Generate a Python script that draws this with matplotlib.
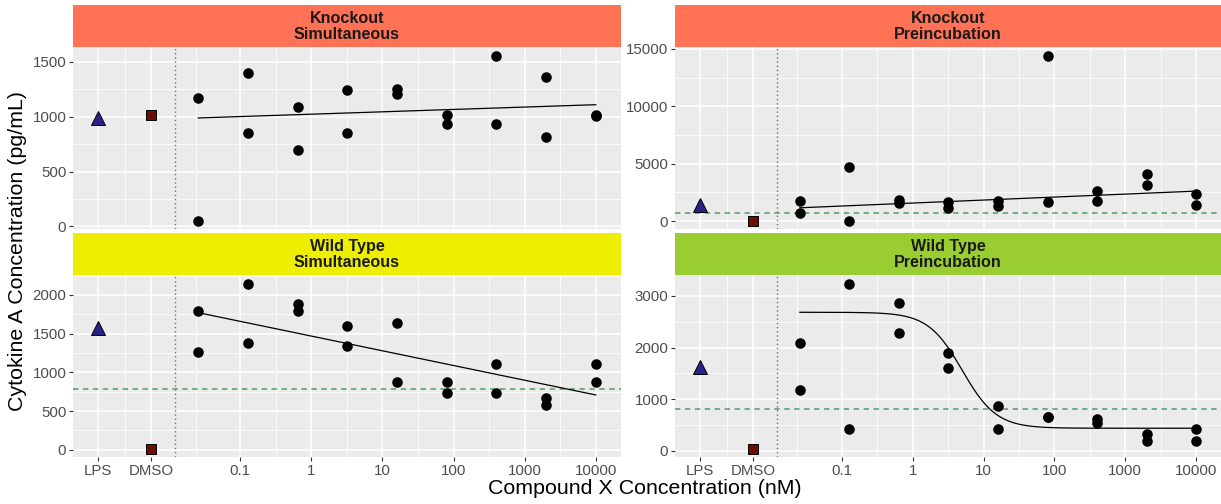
import numpy as np
import matplotlib
matplotlib.use("Agg")
import matplotlib.pyplot as plt
from matplotlib.ticker import FixedLocator, MultipleLocator, NullFormatter

plt.rcParams['font.family'] = ['Liberation Sans', 'DejaVu Sans']

# ---------------- data ----------------
conc = [0.0256, 0.128, 0.64, 3.2, 16, 80, 400, 2000, 10000]
control_labels = ["LPS", "DMSO"]
control_pos = [0.001, 10 ** -2.25]
separator_pos = 10 ** -1.92
conc_ticks = [0.1, 1, 10, 100, 1000, 10000]
conc_tick_labels = ["0.1", "1", "10", "100", "1000", "10000"]

ko_sim_rep1 = [1171, 1403, 1092, 1248, 1251, 1013, 1558, 1363, 1013]
ko_sim_rep2 = [49, 855, 694, 855, 1208, 934, 934, 815, 1008]
ko_sim_lps = 985
ko_sim_dmso = 1013
ko_sim_fit = [989, 1110]

ko_pre_rep1 = [1744, 4680, 1831, 1628, 1773, 14419, 2645, 4128, 2355]
ko_pre_rep2 = [669, 20, 1540, 1105, 1279, 1686, 1715, 3110, 1366]
ko_pre_lps = 1380
ko_pre_dmso = 10
ko_pre_fit = [1163, 2616]
ko_pre_hline = 669

wt_sim_rep1 = [1797, 2147, 1879, 1603, 1642, 877, 1106, 665, 1106]
wt_sim_rep2 = [1257, 1374, 1797, 1335, 877, 730, 730, 579, 877]
wt_sim_lps = 1570
wt_sim_dmso = 9
wt_sim_fit = [1771, 708]
wt_sim_hline = 786

wt_pre_rep1 = [2088, 3238, 2857, 1894, 873, 653, 614, 330, 433]
wt_pre_rep2 = [1183, 433, 2282, 1597, 433, 650, 537, 200, 200]
wt_pre_lps = 1622
wt_pre_dmso = 38
# four-parameter log-logistic fit: top, bottom, EC50 (nM), hill slope
wt_pre_fit_params = [2683, 440, 5.0, 1.8]
wt_pre_hline = 814

strip_titles = ["Knockout\nSimultaneous", "Knockout\nPreincubation",
                "Wild Type\nSimultaneous", "Wild Type\nPreincubation"]
strip_colors = ["#FF7256", "#FF7256", "#EEEE00", "#9ACD32"]

# ---------------- layout ----------------
W, H = 1221, 504
fig = plt.figure(figsize=(W / 100, H / 100), dpi=100)

def box(x0, y0, x1, y1):
    return [x0 / W, 1 - y1 / H, (x1 - x0) / W, (y1 - y0) / H]

cols = [(73.3, 620.6), (675.2, 1221.0)]
rows = [(5.3, 47.3, 229.3), (233.3, 275.3, 457.3)]

def loglogistic(x, top, bottom, ec50, hill):
    return bottom + (top - bottom) / (1 + (x / ec50) ** hill)

panels = [
    dict(r1=ko_sim_rep1, r2=ko_sim_rep2, lps=ko_sim_lps, dmso=ko_sim_dmso,
         fit=ko_sim_fit, hline=None, step=500, curve=None),
    dict(r1=ko_pre_rep1, r2=ko_pre_rep2, lps=ko_pre_lps, dmso=ko_pre_dmso,
         fit=ko_pre_fit, hline=ko_pre_hline, step=5000, curve=None),
    dict(r1=wt_sim_rep1, r2=wt_sim_rep2, lps=wt_sim_lps, dmso=wt_sim_dmso,
         fit=wt_sim_fit, hline=wt_sim_hline, step=500, curve=None),
    dict(r1=wt_pre_rep1, r2=wt_pre_rep2, lps=wt_pre_lps, dmso=wt_pre_dmso,
         fit=None, hline=wt_pre_hline, step=1000, curve=wt_pre_fit_params),
]

xmin_log, xmax_log = np.log10(control_pos[0]), np.log10(conc[-1])
xpad = 0.05 * (xmax_log - xmin_log)
xlim = (10 ** (xmin_log - xpad), 10 ** (xmax_log + xpad))

major_x = control_pos + conc_ticks
major_labels = control_labels + conc_tick_labels
lm = np.log10(major_x)
minor_x = list(10 ** ((lm[:-1] + lm[1:]) / 2))

tick_color = "#4D4D4D"
for i, p in enumerate(panels):
    r, c = divmod(i, 2)
    x0, x1 = cols[c]
    s0, s1, p1 = rows[r]
    sax = fig.add_axes(box(x0, s0, x1, s1))
    sax.set_facecolor(strip_colors[i])
    sax.set_xticks([]); sax.set_yticks([])
    for sp in sax.spines.values():
        sp.set_visible(False)
    sax.text(0.5, 0.5, strip_titles[i], ha="center", va="center",
             fontsize=11.6, fontweight="bold", color="#1A1A1A",
             linespacing=1.12, transform=sax.transAxes)

    ax = fig.add_axes(box(x0, s1, x1, p1))
    ax.set_facecolor("#EBEBEB")
    for sp in ax.spines.values():
        sp.set_visible(False)
    ax.set_xscale("log")
    ax.set_xlim(*xlim)

    # y range from all layers
    vals = list(p["r1"]) + list(p["r2"]) + [p["lps"], p["dmso"]]
    if p["fit"] is not None:
        vals += list(p["fit"])
    xs_curve = None
    if p["curve"] is not None:
        xs_curve = np.logspace(np.log10(conc[0]), np.log10(conc[-1]), 300)
        ys_curve = loglogistic(xs_curve, *p["curve"])
        vals += list(ys_curve)
    if p["hline"] is not None:
        vals.append(p["hline"])
    lo, hi = min(vals), max(vals)
    pad = 0.05 * (hi - lo)
    ax.set_ylim(lo - pad, hi + pad)

    ax.yaxis.set_major_locator(MultipleLocator(p["step"]))
    ax.yaxis.set_minor_locator(MultipleLocator(p["step"] / 2))
    ax.xaxis.set_major_locator(FixedLocator(major_x))
    ax.xaxis.set_minor_locator(FixedLocator(minor_x))
    ax.xaxis.set_minor_formatter(NullFormatter())
    ax.set_xticklabels(major_labels if r == 1 else [""] * len(major_x))
    ax.grid(which="major", color="white", lw=1.1)
    ax.grid(which="minor", color="white", lw=0.55)
    ax.set_axisbelow(True)
    ax.tick_params(which="major", length=3, width=0.8, color="#333333",
                   labelsize=10.8, labelcolor=tick_color, pad=2)
    ax.tick_params(which="minor", length=0)
    if r == 0:
        ax.tick_params(axis="x", which="major", length=0)

    ax.axvline(separator_pos, color="#707070", lw=1.0, ls=(0, (1, 2)), zorder=1.5)
    if p["hline"] is not None:
        ax.axhline(p["hline"], color="#4F9E68", lw=1.1, ls=(0, (3.5, 3)), zorder=1.6)
    if p["fit"] is not None:
        ax.plot([conc[0], conc[-1]], p["fit"], color="black", lw=0.9, zorder=2)
    if xs_curve is not None:
        ax.plot(xs_curve, ys_curve, color="black", lw=0.9, zorder=2)

    ax.plot(conc, p["r1"], "o", color="black", ms=7.6, mec="none", zorder=3)
    ax.plot(conc, p["r2"], "o", color="black", ms=7.6, mec="none", zorder=3)
    ax.plot([control_pos[0]], [p["lps"]], "^", mfc="#2B2188", mec="black",
            mew=0.7, ms=9.5, zorder=3)
    ax.plot([control_pos[1]], [p["dmso"]], "s", mfc="#6B1000", mec="black",
            mew=0.7, ms=6.8, zorder=3)

fig.text(645 / W, 1 - 488 / H, "Compound X Concentration (nM)", ha="center",
         va="center", fontsize=15.4, color="black")
fig.text(18 / W, 1 - 251 / H, "Cytokine A Concentration (pg/mL)", ha="center",
         va="center", rotation=90, fontsize=15.4, color="black")

fig.savefig("out.png", dpi=100)
